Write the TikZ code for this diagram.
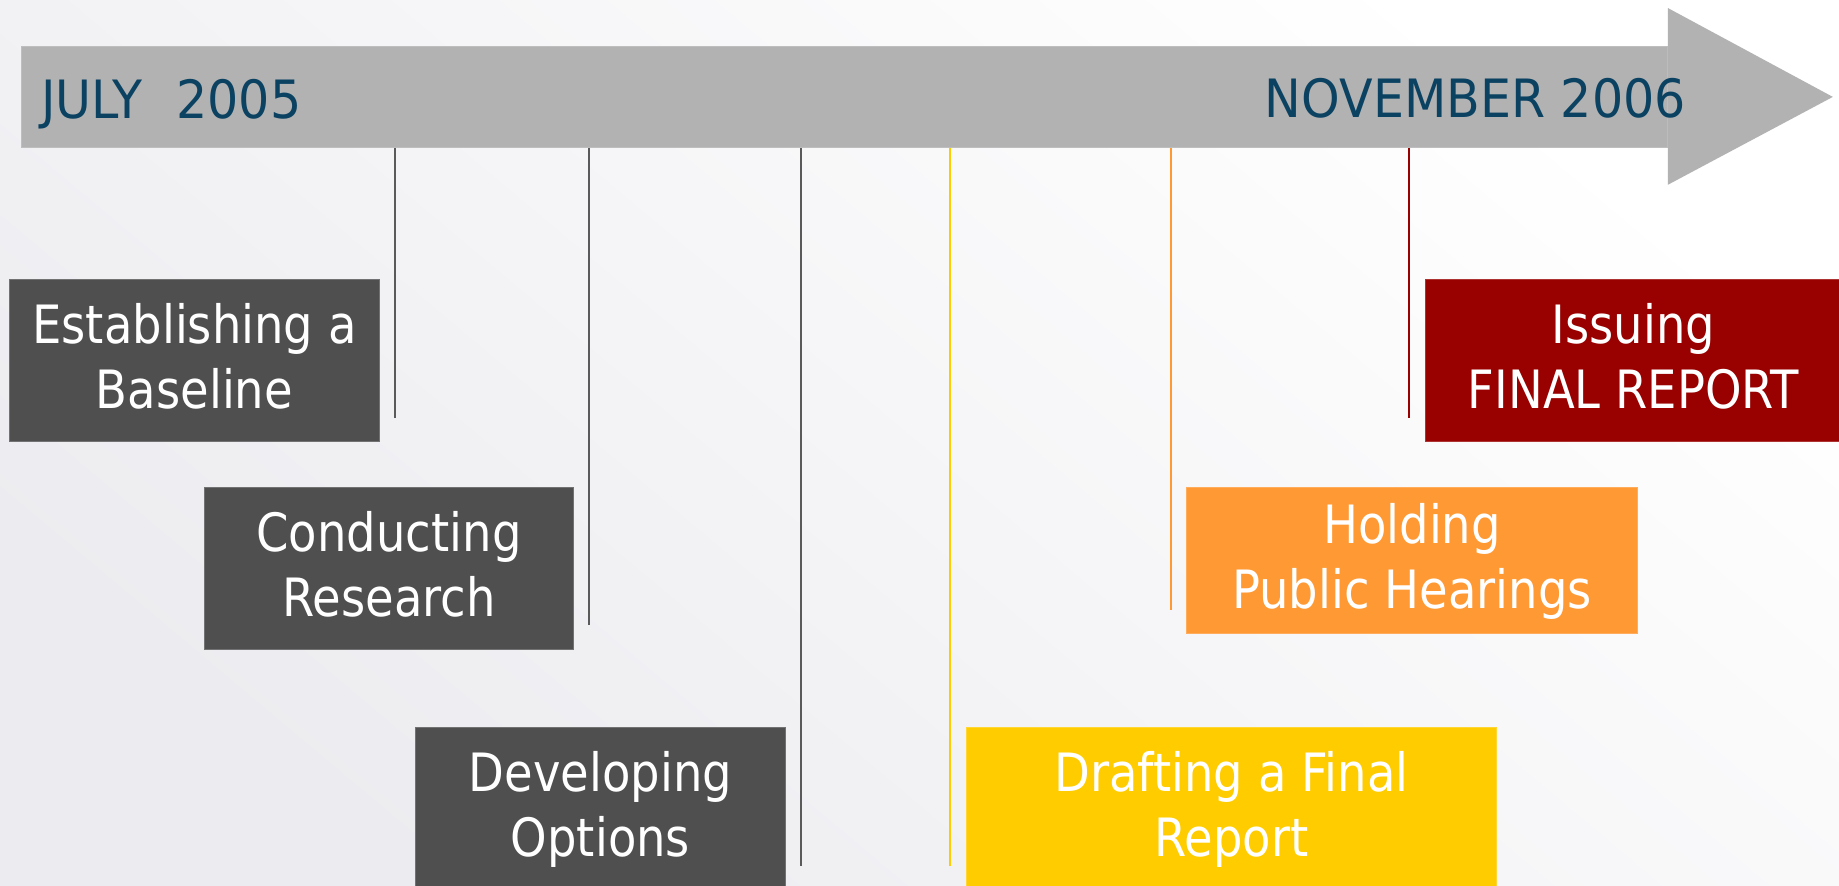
\documentclass[tikz,border=0pt]{standalone}
\usepackage{xcolor}
\usepackage{fontspec}
\setmainfont[FakeStretch=0.88]{DejaVu Sans}
\newfontfamily\datefont[FakeStretch=0.93]{DejaVu Sans}
\usepackage{tikz}
\usetikzlibrary{positioning,calc}

\definecolor{barGray}{HTML}{B2B2B2}
\definecolor{dateBlue}{HTML}{0B4262}
\definecolor{phaseGray}{HTML}{4F4F4F}
\definecolor{phaseRed}{HTML}{990000}
\definecolor{phaseOrange}{HTML}{FF9933}
\definecolor{phaseYellow}{HTML}{FFCC00}
\definecolor{stubGray}{HTML}{5A5A5A}
\definecolor{bgLeft}{HTML}{ECECF0}

\begin{document}
\begin{tikzpicture}[
    x=1bp, y=-1bp,
    bar/.style={rectangle, fill=barGray, draw=barGray!85!white, line width=0.8bp, inner sep=0pt, anchor=north west},
    date/.style={text=dateBlue, inner sep=0pt, font=\datefont\fontsize{53}{65}\selectfont},
    phase/.style={rectangle, fill=#1, draw=#1!80!white, line width=1bp, text=white, align=center, inner sep=0pt, text depth=9bp, anchor=north west, font=\fontsize{53}{65}\selectfont},
    stub/.style={draw=#1, line width=1.6bp}
]

% Background
\useasboundingbox (0,0) rectangle (1839,886);
\shade[top color=white, bottom color=bgLeft, shading angle=-40] (0,0) rectangle (1839,886);

% Timeline arrow
\node[bar, minimum width=1646bp, minimum height=101bp] (bar) at (21,46) {};
\fill[barGray] (bar.north east) -- ++(0,-38) -- ($(bar.east)+(165,0)$) -- ($(bar.south east)+(0,37)$) -- (bar.south east) -- cycle;
\node[date, anchor=base west] (start) at (41,118) {JULY\hspace{34bp}2005};
\node[date, anchor=base east] (finish) at (1686,117) {NOVEMBER 2006};

% Phases
\node[phase=phaseGray, minimum width=370bp, minimum height=162bp] (base) at (9,279) {Establishing a\\Baseline};
\node[phase=phaseGray, minimum width=369bp, minimum height=162bp] (research) at (204,487) {Conducting\\Research};
\node[phase=phaseGray, minimum width=370bp, minimum height=162bp] (options) at (415,727) {Developing\\Options};
\node[phase=phaseYellow, minimum width=530bp, minimum height=162bp] (draft) at (966,727) {Drafting a Final\\Report};
\node[phase=phaseOrange, minimum width=451bp, minimum height=146bp] (hearings) at (1186,487) {Holding\\Public Hearings};
\node[phase=phaseRed, minimum width=416bp, minimum height=162bp] (issue) at (1425,279) {Issuing\\FINAL REPORT};

% Drop lines
\coordinate (b1) at ($(base.south east)+(15,-24)$);
\coordinate (r1) at ($(research.south east)+(15,-25)$);
\coordinate (o1) at ($(options.south east)+(15,-24)$);
\coordinate (d1) at ($(draft.south west)+(-16,-24)$);
\coordinate (h1) at ($(hearings.south west)+(-15,-24)$);
\coordinate (i1) at ($(issue.south west)+(-16,-24)$);
\draw[stub=stubGray] (bar.south -| b1) -- (b1);
\draw[stub=stubGray] (bar.south -| r1) -- (r1);
\draw[stub=stubGray] (bar.south -| o1) -- (o1);
\draw[stub=phaseYellow] (bar.south -| d1) -- (d1);
\draw[stub=phaseOrange] (bar.south -| h1) -- (h1);
\draw[stub=phaseRed] (bar.south -| i1) -- (i1);

\end{tikzpicture}
\end{document}
